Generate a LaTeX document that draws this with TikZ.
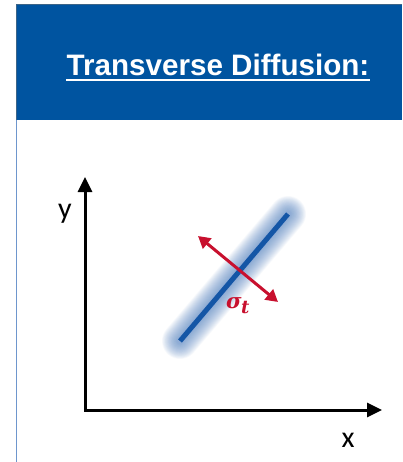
\documentclass[tikz,border=0pt]{standalone}
\usepackage{fontspec}
\usetikzlibrary{arrows.meta}
\newfontfamily\titlefont{Liberation Sans}
\newfontfamily\axisfont{Carlito}
\newfontfamily\sigfont{DejaVu Serif}
\definecolor{hdrblue}{RGB}{0,84,160}
\definecolor{lineblue}{RGB}{20,86,166}
\definecolor{haloblue}{RGB}{80,130,195}
\definecolor{sigred}{RGB}{200,16,46}
\definecolor{borderblue}{RGB}{110,150,205}
\definecolor{hdredge}{RGB}{60,100,135}
\tikzset{
  axisline/.style={line width=3pt, black, {Triangle[length=15pt,width=14pt]}-{Triangle[length=15pt,width=14pt]}},
  axislabel/.style={font=\axisfont\fontsize{30}{30}\selectfont, inner sep=0pt, anchor=base},
  halo/.style={haloblue, line cap=round, opacity=0.045},
  sigarrow/.style={line width=3pt, sigred, {Triangle[length=12pt,width=13pt]}-{Triangle[length=12pt,width=13pt]}},
}
\begin{document}
\begin{tikzpicture}[x=1pt,y=-1pt]
\useasboundingbox (0,0) rectangle (402,462);
\fill[white] (0,0) rectangle (402,462);
% header
\fill[hdrblue] (16,4) rectangle (402,120);
\draw[hdredge, line width=0.8pt] (402,4) -- (16,4) -- (16,120);
\draw[borderblue, line width=1.5pt] (16.5,120) -- (16.5,462);
\node[font=\titlefont\bfseries\fontsize{29.6}{30}\selectfont, text=white, inner sep=0pt, anchor=base] (title) at (218,76) {Transverse Diffusion:};
\draw[white, line width=2pt] ([yshift=-4.5pt]title.base west) -- ([yshift=-4.5pt]title.base east);
% axes
\coordinate (origin) at (85,410);
\coordinate (ytip) at (85,177);
\coordinate (xtip) at (382,410);
\draw[axisline] (ytip) -- (origin) -- (xtip);
\node[axislabel] (ylab) at (65,218) {y};
\node[axislabel] (xlab) at (348,447) {x};
% halo
\coordinate (la) at (180,341);
\coordinate (lb) at (288,214);
\foreach \w in {36,34.5,...,6} {
  \draw[halo, line width=\w pt] (la) -- (lb);
}
\draw[lineblue, line width=5pt] (la) -- (lb);
% red arrow
\coordinate (ra) at (198,236);
\coordinate (rb) at (278,302);
\draw[sigarrow] (ra) -- (rb);
\node[text=sigred, inner sep=0pt, anchor=base west] (sig) at (226,308)
  {\sigfont\bfseries\itshape\fontsize{21}{21}\selectfont σ\kern-0.5pt\raisebox{-5pt}{\fontsize{18}{18}\selectfont t}};
\end{tikzpicture}
\end{document}
